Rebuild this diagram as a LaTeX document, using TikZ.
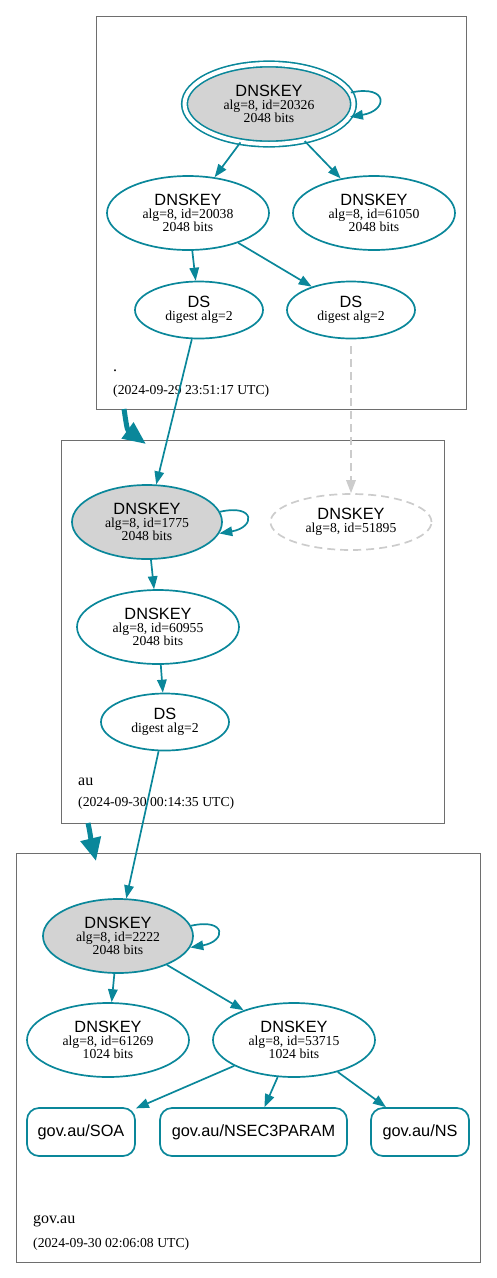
\documentclass[tikz,border=0pt]{standalone}
\usepackage{fontspec}
\setmainfont{Liberation Serif}
\setsansfont{Liberation Sans}
\usetikzlibrary{shapes.geometric,arrows.meta}
\definecolor{dnsteal}{HTML}{0A879A}
\definecolor{keygray}{HTML}{D3D3D3}
\definecolor{lostgray}{HTML}{CCCCCC}
\definecolor{clustergray}{HTML}{6E6E6E}
\newcommand\dnstitle{\sffamily\fontsize{16.3}{13.3}\selectfont}
\newcommand\dnsdetail{\rmfamily\fontsize{13.7}{13.3}\selectfont}
\newcommand\dnsname{\rmfamily\fontsize{16}{16}\selectfont}
\begin{document}
\begin{tikzpicture}[x=1pt,y=-1pt,
  keynode/.style={ellipse, draw=dnsteal, line width=1.7pt, inner sep=0pt,
    minimum width=162pt, minimum height=74pt, align=center, font=\dnsdetail},
  dsnode/.style={keynode, minimum width=128pt, minimum height=57pt},
  sepnode/.style={keynode, fill=keygray, minimum width=150pt},
  lostnode/.style={ellipse, draw=lostgray, line width=1.7pt, dash pattern=on 8pt off 5pt,
    inner sep=0pt, minimum width=161pt, minimum height=56pt, align=center, font=\dnsdetail},
  rrnode/.style={rectangle, rounded corners=12pt, draw=dnsteal, line width=1.7pt,
    minimum height=48pt, inner sep=0pt, font=\dnstitle},
  cluster/.style={rectangle, draw=clustergray, line width=0.8pt, inner sep=0pt},
  edge/.style={draw=dnsteal, line width=1.7pt, -{Triangle[length=13pt,width=9.5pt]}},
  lostedge/.style={draw=lostgray, line width=1.7pt, dash pattern=on 8pt off 5pt,
    -{Triangle[length=13pt,width=9.5pt]}},
  zoneedge/.style={draw=dnsteal, line width=5pt},
  lbl/.style={anchor=base west, inner sep=0pt},
]
\useasboundingbox (0,0) rectangle (496,1278);

% clusters
\node[cluster, minimum width=370pt, minimum height=393pt] (c1) at (281,212.5) {};
\node[cluster, minimum width=383pt, minimum height=383pt] (c2) at (252.5,631.5) {};
\node[cluster, minimum width=464pt, minimum height=409pt] (c3) at (248,1057.5) {};

% zone labels
\node[lbl, font=\dnsname] (l1) at (113,371) {.};
\node[lbl, font=\dnsdetail] (d1) at (113,394) {(2024-09-29 23:51:17 UTC)};
\node[lbl, font=\dnsname] (l2) at (78,785) {au};
\node[lbl, font=\dnsdetail] (d2) at (78,806) {(2024-09-30 00:14:35 UTC)};
\node[lbl, font=\dnsname] (l3) at (33,1223) {gov.au};
\node[lbl, font=\dnsdetail] (d3) at (33,1247) {(2024-09-30 02:06:08 UTC)};

% root zone
\node[keynode, fill=keygray, double=white, double distance=4pt, line width=1.6pt,
  minimum width=169pt, minimum height=80pt] (k20326) at (269,104)
  {{\dnstitle DNSKEY}\\alg=8, id=20326\\2048 bits};
\node[keynode] (k20038) at (188,213) {{\dnstitle DNSKEY}\\alg=8, id=20038\\2048 bits};
\node[keynode] (k61050) at (374,213) {{\dnstitle DNSKEY}\\alg=8, id=61050\\2048 bits};
\node[dsnode] (ds1) at (199,310) {{\dnstitle DS}\\digest alg=2};
\node[dsnode] (ds2) at (351,310) {{\dnstitle DS}\\digest alg=2};

% au zone
\node[sepnode] (k1775) at (147,522) {{\dnstitle DNSKEY}\\alg=8, id=1775\\2048 bits};
\node[lostnode] (k51895) at (351,522) {{\dnstitle DNSKEY}\\alg=8, id=51895};
\node[keynode] (k60955) at (158,627) {{\dnstitle DNSKEY}\\alg=8, id=60955\\2048 bits};
\node[dsnode] (ds3) at (165,722) {{\dnstitle DS}\\digest alg=2};

% gov.au zone
\node[sepnode] (k2222) at (118,936) {{\dnstitle DNSKEY}\\alg=8, id=2222\\2048 bits};
\node[keynode] (k61269) at (108,1040) {{\dnstitle DNSKEY}\\alg=8, id=61269\\1024 bits};
\node[keynode] (k53715) at (294,1040) {{\dnstitle DNSKEY}\\alg=8, id=53715\\1024 bits};
\node[rrnode, minimum width=108pt] (soa) at (81,1132) {gov.au/SOA};
\node[rrnode, minimum width=187pt] (nsec) at (253.5,1132) {gov.au/NSEC3PARAM};
\node[rrnode, minimum width=98pt] (ns) at (420,1132) {gov.au/NS};

% zone delegation arrows
\coordinate (t1) at (124,409);
\coordinate (h1) at (146,444);
\coordinate (t2) at (88,823);
\coordinate (h2) at (96,861);
\draw[zoneedge, -{Triangle[length=23pt,width=19pt]}] (t1) .. controls (126,422) and (127,430) .. (h1);
\draw[zoneedge, -{Triangle[length=23pt,width=20pt]}] (t2) .. controls (90,832) and (91,840) .. (h2);

% edges root
\draw[edge] (k20326.8) .. controls +(38,-8) and +(38,-6) .. (k20326.-9);
\draw[edge] (k20326) -- (k20038);
\draw[edge] (k20326) -- (k61050);
\draw[edge] (k20038) -- (ds1);
\draw[edge] (k20038) -- (ds2);
\draw[edge] (ds1) -- (k1775);
\draw[lostedge] ([yshift=-7pt]ds2.south) -- (k51895);

% edges au
\draw[edge] (k1775.8) .. controls +(36,-8) and +(36,-6) .. (k1775.-9);
\draw[edge] (k1775) -- (k60955);
\draw[edge] (k60955) -- (ds3);
\draw[edge] (ds3) -- (k2222);

% edges gov.au
\draw[edge] (k2222.8) .. controls +(36,-8) and +(36,-6) .. (k2222.-9);
\draw[edge] (k2222) -- (k61269);
\draw[edge] (k2222) -- (k53715);
\draw[edge] (k53715) -- (soa);
\draw[edge] (k53715) -- (nsec);
\draw[edge] (k53715) -- (ns);
\end{tikzpicture}
\end{document}
